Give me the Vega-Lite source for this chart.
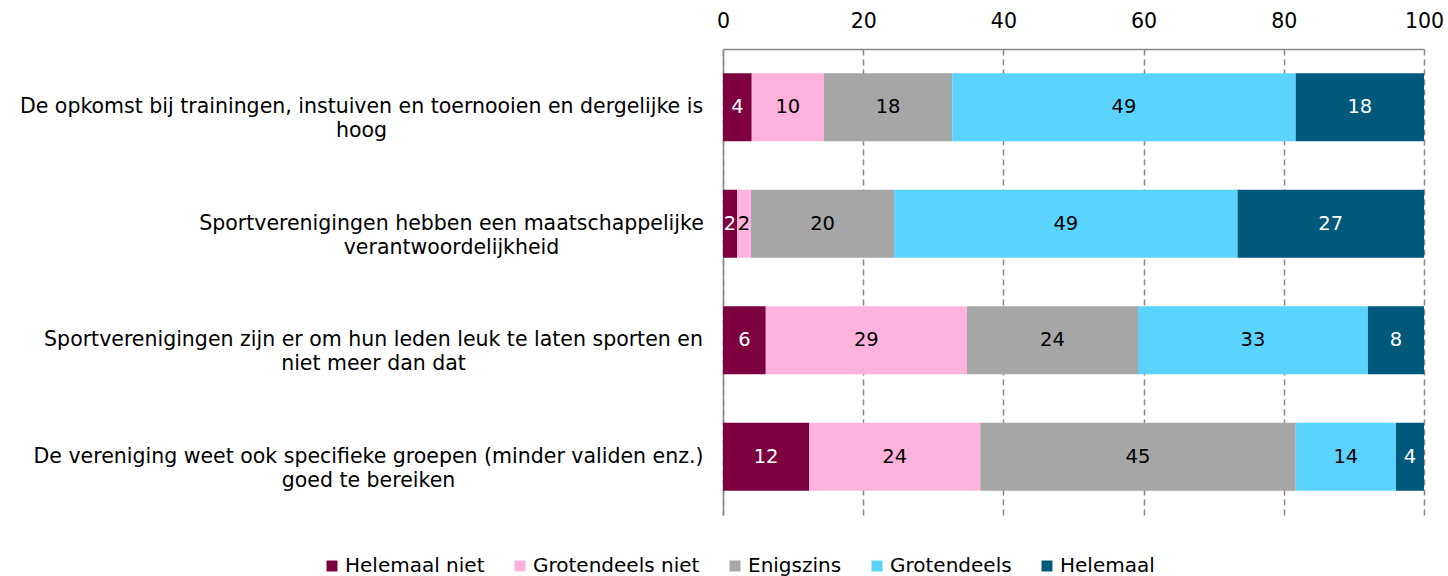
{
  "$schema": "https://vega.github.io/schema/vega-lite/v6.json",
  "autosize": "none",
  "padding": {"left": 723, "top": 49, "right": 24, "bottom": 61},
  "width": 701,
  "height": 466,
  "background": "white",
  "config": {
    "font": "DejaVu Sans",
    "view": {"stroke": null}
  },
  "data": {
    "values": [
      {"q": "De opkomst bij trainingen, instuiven en toernooien en dergelijke is|hoog", "cat": "Helemaal niet", "k": 0, "v": 4.1},
      {"q": "De opkomst bij trainingen, instuiven en toernooien en dergelijke is|hoog", "cat": "Grotendeels niet", "k": 1, "v": 10.3},
      {"q": "De opkomst bij trainingen, instuiven en toernooien en dergelijke is|hoog", "cat": "Enigszins", "k": 2, "v": 18.3},
      {"q": "De opkomst bij trainingen, instuiven en toernooien en dergelijke is|hoog", "cat": "Grotendeels", "k": 3, "v": 49.0},
      {"q": "De opkomst bij trainingen, instuiven en toernooien en dergelijke is|hoog", "cat": "Helemaal", "k": 4, "v": 18.3},
      {"q": "Sportverenigingen hebben een maatschappelijke|verantwoordelijkheid", "cat": "Helemaal niet", "k": 0, "v": 2.0},
      {"q": "Sportverenigingen hebben een maatschappelijke|verantwoordelijkheid", "cat": "Grotendeels niet", "k": 1, "v": 2.0},
      {"q": "Sportverenigingen hebben een maatschappelijke|verantwoordelijkheid", "cat": "Enigszins", "k": 2, "v": 20.4},
      {"q": "Sportverenigingen hebben een maatschappelijke|verantwoordelijkheid", "cat": "Grotendeels", "k": 3, "v": 49.0},
      {"q": "Sportverenigingen hebben een maatschappelijke|verantwoordelijkheid", "cat": "Helemaal", "k": 4, "v": 26.6},
      {"q": "Sportverenigingen zijn er om hun leden leuk te laten sporten en|niet meer dan dat", "cat": "Helemaal niet", "k": 0, "v": 6.1},
      {"q": "Sportverenigingen zijn er om hun leden leuk te laten sporten en|niet meer dan dat", "cat": "Grotendeels niet", "k": 1, "v": 28.7},
      {"q": "Sportverenigingen zijn er om hun leden leuk te laten sporten en|niet meer dan dat", "cat": "Enigszins", "k": 2, "v": 24.4},
      {"q": "Sportverenigingen zijn er om hun leden leuk te laten sporten en|niet meer dan dat", "cat": "Grotendeels", "k": 3, "v": 32.8},
      {"q": "Sportverenigingen zijn er om hun leden leuk te laten sporten en|niet meer dan dat", "cat": "Helemaal", "k": 4, "v": 8.0},
      {"q": "De vereniging weet ook specifieke groepen (minder validen enz.)|goed te bereiken", "cat": "Helemaal niet", "k": 0, "v": 12.3},
      {"q": "De vereniging weet ook specifieke groepen (minder validen enz.)|goed te bereiken", "cat": "Grotendeels niet", "k": 1, "v": 24.4},
      {"q": "De vereniging weet ook specifieke groepen (minder validen enz.)|goed te bereiken", "cat": "Enigszins", "k": 2, "v": 45.0},
      {"q": "De vereniging weet ook specifieke groepen (minder validen enz.)|goed te bereiken", "cat": "Grotendeels", "k": 3, "v": 14.3},
      {"q": "De vereniging weet ook specifieke groepen (minder validen enz.)|goed te bereiken", "cat": "Helemaal", "k": 4, "v": 4.0}
    ]
  },
  "encoding": {
    "y": {
      "field": "q",
      "type": "nominal",
      "sort": null,
      "title": null,
      "scale": {"paddingInner": 0.416, "paddingOuter": 0.208},
      "axis": {
        "orient": "left",
        "domain": true,
        "domainColor": "#888888",
        "domainWidth": 1.5,
        "ticks": false,
        "labelExpr": "split(datum.label, '|')",
        "labelFontSize": 20.5,
        "labelColor": "#000000",
        "labelLineHeight": 24,
        "labelAlign": "center",
        "labelBaseline": "middle",
        "labelLimit": 0,
        "labelPadding": {
          "condition": [
            {"test": "datum.value == 'De opkomst bij trainingen, instuiven en toernooien en dergelijke is|hoog'", "value": 362},
            {"test": "datum.value == 'Sportverenigingen hebben een maatschappelijke|verantwoordelijkheid'", "value": 272},
            {"test": "datum.value == 'Sportverenigingen zijn er om hun leden leuk te laten sporten en|niet meer dan dat'", "value": 350}
          ],
          "value": 355
        }
      }
    },
    "x": {
      "field": "v",
      "type": "quantitative",
      "stack": "zero",
      "title": null,
      "scale": {"domain": [0, 100], "nice": false},
      "axis": {
        "orient": "top",
        "values": [0, 20, 40, 60, 80, 100],
        "domain": true,
        "domainColor": "#888888",
        "domainWidth": 1.5,
        "ticks": false,
        "labelFlush": false,
        "labelFontSize": 20.5,
        "labelColor": "#000000",
        "labelPadding": 18,
        "grid": true,
        "gridColor": "#888888",
        "gridDash": [6, 4],
        "gridWidth": 1.5
      }
    }
  },
  "layer": [
    {
      "mark": {"type": "bar"},
      "encoding": {
        "color": {
          "field": "cat",
          "type": "nominal",
          "sort": ["Helemaal niet", "Grotendeels niet", "Enigszins", "Grotendeels", "Helemaal"],
          "scale": {
            "domain": ["Helemaal niet", "Grotendeels niet", "Enigszins", "Grotendeels", "Helemaal"],
            "range": ["#7D003F", "#FFB3DC", "#A6A6A6", "#5BD3FF", "#00587A"]
          },
          "legend": {
            "title": null,
            "orient": "none",
            "direction": "horizontal",
            "legendX": -401,
            "legendY": 507,
            "symbolType": "square",
            "symbolSize": 120,
            "symbolStrokeWidth": 0,
            "labelFontSize": 20,
            "labelColor": "#000000",
            "labelOffset": 3,
            "columnPadding": 25,
            "labelLimit": 0
          }
        },
        "order": {"field": "k", "type": "quantitative"}
      }
    },
    {
      "mark": {"type": "text", "fontSize": 19.5, "align": "center", "baseline": "middle"},
      "encoding": {
        "x": {"field": "v", "type": "quantitative", "stack": "zero", "bandPosition": 0.5},
        "text": {"field": "v", "type": "quantitative", "format": ".0f"},
        "order": {"field": "k", "type": "quantitative"},
        "color": {
          "condition": {"test": "datum.k == 0 || datum.k == 4", "value": "#FFFFFF"},
          "value": "#000000"
        }
      }
    }
  ]
}
